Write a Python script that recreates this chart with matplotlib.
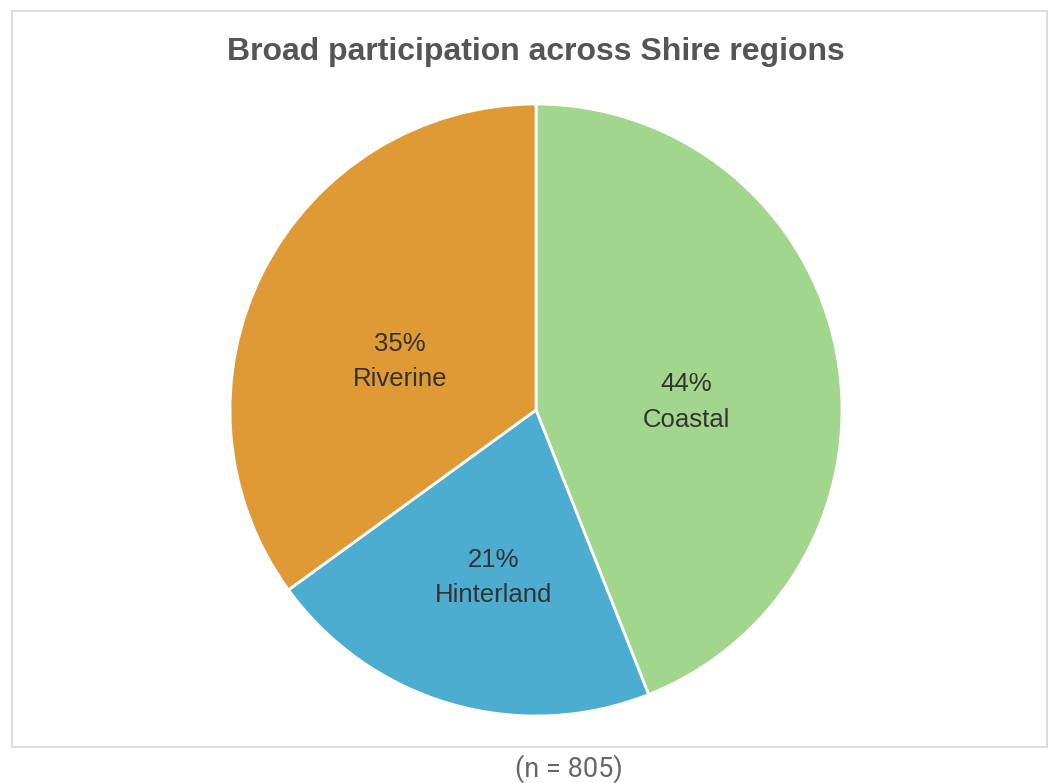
import matplotlib.pyplot as plt
from matplotlib.patches import Rectangle
from matplotlib.transforms import offset_copy

regions = ['Coastal', 'Hinterland', 'Riverine']
shares = [44, 21, 35]
colors = ['#a2d68c', '#4cadd0', '#e09a35']
title = 'Broad participation across Shire regions'
note = '(n = 805)'

plt.rcParams['font.family'] = ['Liberation Sans', 'DejaVu Sans']

fig = plt.figure(figsize=(10.5, 7.83), dpi=100)

# light frame around the chart panel
fig.patches.append(Rectangle((12 / 1050, 1 - 747 / 783), (1047 - 12) / 1050, (747 - 11) / 783,
                             transform=fig.transFigure, fill=False,
                             edgecolor='#dcdcdc', linewidth=1.5))

r = 306
cx, cy = 536, 410
ax = fig.add_axes([(cx - r) / 1050, 1 - (cy + r) / 783, 2 * r / 1050, 2 * r / 783])

wedges, texts = ax.pie(shares, colors=colors, startangle=90, counterclock=False,
                       wedgeprops=dict(edgecolor='white', linewidth=2),
                       labels=[f'{s}%\n{n}' for s, n in zip(shares, regions)],
                       labeldistance=0.5,
                       textprops=dict(fontsize=18.5, color='#333333', ha='center',
                                      va='center', linespacing=1.6))
# nudge the labels a little below the wedge midpoints
for t in texts:
    t.set_transform(offset_copy(ax.transData, fig=fig, x=0, y=-15, units='points'))

ax.set_xlim(-1, 1)
ax.set_ylim(-1, 1)
ax.set_aspect('equal')

fig.text(536 / 1050, 1 - 52 / 783, title, ha='center', va='center',
         fontsize=23, fontweight='bold', color='#555555')
fig.text(569 / 1050, 1 - 769 / 783, note, ha='center', va='center',
         fontsize=19.5, color='#666666', family=['Roboto', 'DejaVu Sans'])

fig.savefig('out.png', dpi=100)
